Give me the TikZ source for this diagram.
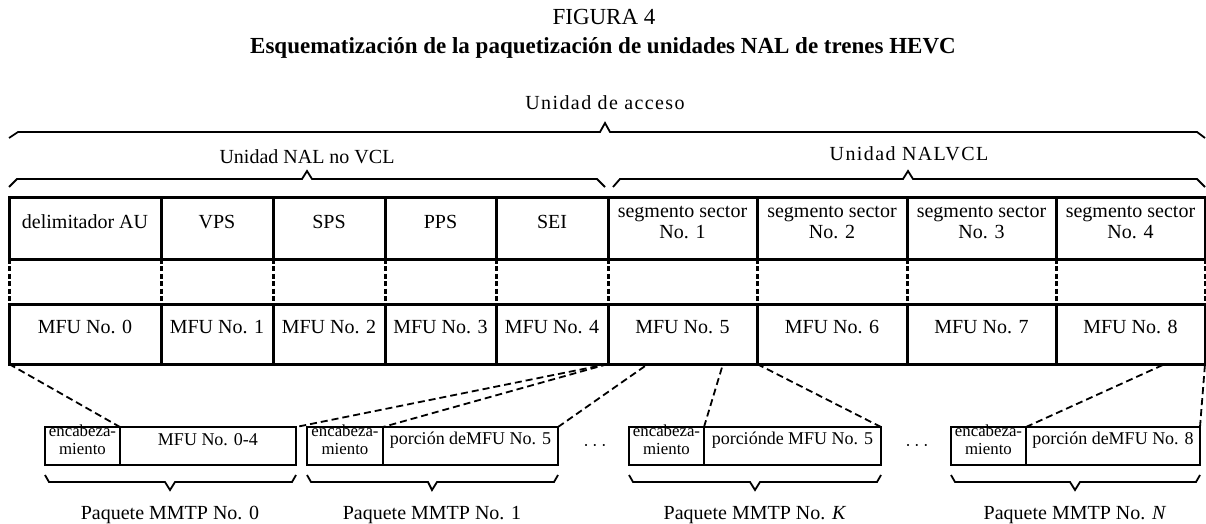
\documentclass[tikz,border=0pt]{standalone}
\usepackage{fontspec}
\setmainfont{Liberation Serif}
\usetikzlibrary{fit, positioning, calc}

\tikzset{
  tbl/.style={draw, line width=1.5pt, inner sep=0pt, outer sep=0pt, align=center, font=\fontsize{10}{10.5}\selectfont},
  pkt/.style={draw, line width=1.2pt, inner sep=0pt, outer sep=0pt, align=center, font=\fontsize{9}{9}\selectfont},
  hdr/.style={pkt, font=\fontsize{8.4}{9}\selectfont},
  mid/.style={line width=1.5pt, dash pattern=on 2.5pt off 1.2pt},
  link/.style={line width=0.9pt, dash pattern=on 3.5pt off 2pt},
  brk/.style={line width=0.9pt},
  txt/.style={inner sep=0pt, font=\fontsize{10}{12}\selectfont},
  wide/.style={inner sep=0pt, font=\fontsize{10}{12}\selectfont\addfontfeature{LetterSpace=7}}
}

\begin{document}
\begin{tikzpicture}[x=0.5pt, y=-0.5pt]
\useasboundingbox (0,0) rectangle (1206,524);
% titulo
\node[txt, anchor=base, font=\fontsize{11.5}{13}\selectfont] (fig) at (604,25) {FIGURA 4};
\node[txt, anchor=base, font=\fontsize{11.5}{13}\selectfont\bfseries] (title) at (603,54) {Esquematización de la paquetización de unidades NAL de trenes HEVC};
% llaves de arriba
\draw[brk] (9,138) -- (18,132) -- (600,132) -- (605,123) -- (610,132) -- (1197,132) -- (1205,138);
\node[wide, anchor=base] (acc) at (605,110) {Unidad de acceso};
\draw[brk] (9,187) -- (17,179) -- (302,179) -- (307,171) -- (312,179) -- (597,179) -- (605,187);
\node[txt, anchor=base] (novcl) at (307,163) {Unidad NAL no VCL};
\draw[brk] (613,187) -- (620,179) -- (903,179) -- (908,171) -- (913,179) -- (1197,179) -- (1205,187);
\node[wide, anchor=base] (vcl) at (909,161) {Unidad NALVCL};
% unidades NAL
\node[tbl, fit={(9,198) (161,259)}] (nal0) {delimitador AU};
\node[tbl, fit={(161,198) (273,259)}] (nal1) {VPS};
\node[tbl, fit={(273,198) (385,259)}] (nal2) {SPS};
\node[tbl, fit={(385,198) (496,259)}] (nal3) {PPS};
\node[tbl, fit={(496,198) (608,259)}] (nal4) {SEI};
\node[tbl, fit={(608,198) (757,259)}] (nal5) {segmento sector\\No. 1};
\node[tbl, fit={(757,198) (907,259)}] (nal6) {segmento sector\\No. 2};
\node[tbl, fit={(907,198) (1056,259)}] (nal7) {segmento sector\\No. 3};
\node[tbl, fit={(1056,198) (1205,259)}] (nal8) {segmento sector\\No. 4};
% MFUs
\foreach \i/\l/\r in {0/9/161, 1/161/273, 2/273/385, 3/385/496, 4/496/608, 5/608/757, 6/757/907, 7/907/1056, 8/1056/1205}
  \node[tbl, fit={(\l,304) (\r,364)}] (mfu\i) {MFU No. \i};
\foreach \i in {0,...,8}
  \draw[mid] (nal\i.south west) -- (mfu\i.north west);
\draw[mid] (nal8.south east) -- (mfu8.north east);
% paquetes MMTP
\node[hdr, fit={(45,427) (120,465)}] (head0) {encabeza-\\miento};
\node[pkt, fit={(120,427) (296,465)}] (load0) {MFU No. 0-4};
\node[hdr, fit={(307,427) (383,465)}] (head1) {encabeza-\\miento};
\node[pkt, fit={(383,427) (558,465)}] (load1) {porción deMFU No. 5};
\node[hdr, fit={(629,427) (704,465)}] (headK) {encabeza-\\miento};
\node[pkt, fit={(704,427) (881,465)}] (loadK) {porciónde MFU No. 5};
\node[hdr, fit={(951,427) (1026,465)}] (headN) {encabeza-\\miento};
\node[pkt, fit={(1026,427) (1200,465)}] (loadN) {porción deMFU No. 8};
\node[txt] (dots1) at (595,446) {$\cdots$};
\node[txt] (dots2) at (917,446) {$\cdots$};
% lineas discontinuas
\coordinate (cut1) at (648,364);
\coordinate (cut2) at (723,364);
\coordinate (cut3) at (1165,364);
\draw[link] (mfu0.south west) -- (head0.north east);
\draw[link] (mfu5.south west) -- (load0.north east);
\draw[link] (mfu5.south west) -- (head1.north east);
\draw[link] (load1.north east) -- (cut1);
\draw[link] (headK.north east) -- (cut2);
\draw[link] (loadK.north east) -- (mfu6.south west);
\draw[link] (headN.north east) -- (cut3);
\draw[link] (loadN.north east) -- (mfu8.south east);
% llaves de abajo
\draw[brk] (45,475) -- (49,482) -- (165,482) -- (170,490) -- (175,482) -- (292,482) -- (296,475);
\draw[brk] (307,475) -- (311,482) -- (428,482) -- (432,490) -- (437,482) -- (554,482) -- (558,475);
\draw[brk] (629,475) -- (633,482) -- (750,482) -- (755,490) -- (760,482) -- (877,482) -- (881,475);
\draw[brk] (951,475) -- (955,482) -- (1070,482) -- (1075,490) -- (1080,482) -- (1196,482) -- (1200,475);
\node[txt, anchor=base] (pk0) at (170,519) {Paquete MMTP No. 0};
\node[txt, anchor=base] (pk1) at (432,519) {Paquete MMTP No. 1};
\node[txt, anchor=base] (pkK) at (755,519) {Paquete MMTP No. \textit{K}};
\node[txt, anchor=base] (pkN) at (1075,519) {Paquete MMTP No. \textit{N}};
\end{tikzpicture}
\end{document}
